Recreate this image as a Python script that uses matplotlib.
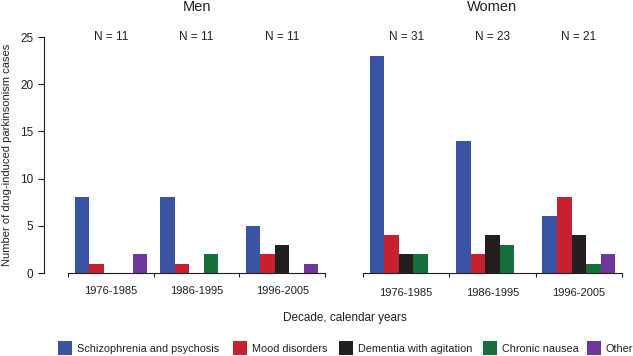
import matplotlib
matplotlib.use('Agg')
import matplotlib.pyplot as plt
import numpy as np
from matplotlib.patches import Patch

plt.rcParams['font.family'] = ['Liberation Sans', 'DejaVu Sans']

decades = ['1976-1985', '1986-1995', '1996-2005']
categories = ['Schizophrenia and psychosis', 'Mood disorders', 'Dementia with agitation',
              'Chronic nausea', 'Other']
colors = ['#3A54A4', '#C8202F', '#231F20', '#17703C', '#6F3799']

# rows = decades, cols = categories
men = [[8, 1, 0, 0, 2],
       [8, 1, 0, 2, 0],
       [5, 2, 3, 0, 1]]
women = [[23, 4, 2, 2, 0],
         [14, 2, 4, 3, 0],
         [6, 8, 4, 1, 2]]
men_n = [11, 11, 11]
women_n = [31, 23, 21]

TXT = '#231F20'
W, H = 633, 356
fig = plt.figure(figsize=(W / 100, H / 100), dpi=100)


def px_axes(x0, x1, y_top, y_bot):
    return fig.add_axes([x0 / W, 1 - y_bot / H, (x1 - x0) / W, (y_bot - y_top) / H])


def draw_panel(ax, data, ns, show_y, label_pad):
    width = 0.169
    centers = np.arange(len(decades)) + 0.5
    for j, (cat, col) in enumerate(zip(categories, colors)):
        vals = [row[j] for row in data]
        ax.bar(centers + (j - 2) * width, vals, width=width, color=col, label=cat)
    for c, n in zip(centers, ns):
        ax.text(c, 25, f'N = {n}', ha='center', va='center', fontsize=8.5, color=TXT)
    ax.set_xlim(0, 3)
    ax.set_ylim(0, 25)
    ax.set_xticks([0, 1, 2, 3])
    ax.set_xticklabels([])
    ax.set_xticks(centers, minor=True)
    ax.set_xticklabels(decades, minor=True, fontsize=8, color=TXT)
    ax.tick_params(axis='x', which='major', direction='out', length=3, width=0.8, color=TXT)
    ax.tick_params(axis='x', which='minor', length=0, pad=label_pad)
    for s in ['top', 'right']:
        ax.spines[s].set_visible(False)
    ax.spines['bottom'].set_color(TXT)
    ax.spines['bottom'].set_linewidth(0.8)
    if show_y:
        ax.spines['left'].set_position(('outward', 17))
        ax.spines['left'].set_color(TXT)
        ax.spines['left'].set_linewidth(0.8)
        ax.set_yticks([0, 5, 10, 15, 20, 25])
        ax.tick_params(axis='y', direction='out', length=4, width=0.8, color=TXT,
                       labelsize=8.5, labelcolor=TXT, pad=4)
    else:
        ax.spines['left'].set_visible(False)
        ax.set_yticks([])


ax_m = px_axes(68, 325, 37, 273)
ax_w = px_axes(363, 622, 37, 273)
draw_panel(ax_m, men, men_n, True, 9)
draw_panel(ax_w, women, women_n, False, 10.5)

ax_m.set_ylabel('Number of drug-induced parkinsonism cases', fontsize=8, color=TXT, labelpad=6)

fig.text(196.5 / W, 1 - 7 / H, 'Men', ha='center', va='center', fontsize=10.5, color=TXT)
fig.text(492.5 / W, 1 - 7 / H, 'Women', ha='center', va='center', fontsize=10.5, color=TXT)
fig.text(344.5 / W, 1 - 318 / H, 'Decade, calendar years', ha='center', va='center',
         fontsize=8.5, color=TXT)

# one legend per entry so each key sits where the reference has it
legend_x = [58, 233, 339, 483, 587]
for lx, c, l in zip(legend_x, colors, categories):
    leg = fig.legend(handles=[Patch(facecolor=c, label=l)], loc='center left',
                     bbox_to_anchor=(lx / W, 1 - 348 / H), frameon=False, fontsize=7.8,
                     handlelength=1.3, handleheight=1.5, handletextpad=0.45,
                     borderaxespad=0, borderpad=0)
    for t in leg.get_texts():
        t.set_color(TXT)

fig.savefig('out.png', dpi=100)
